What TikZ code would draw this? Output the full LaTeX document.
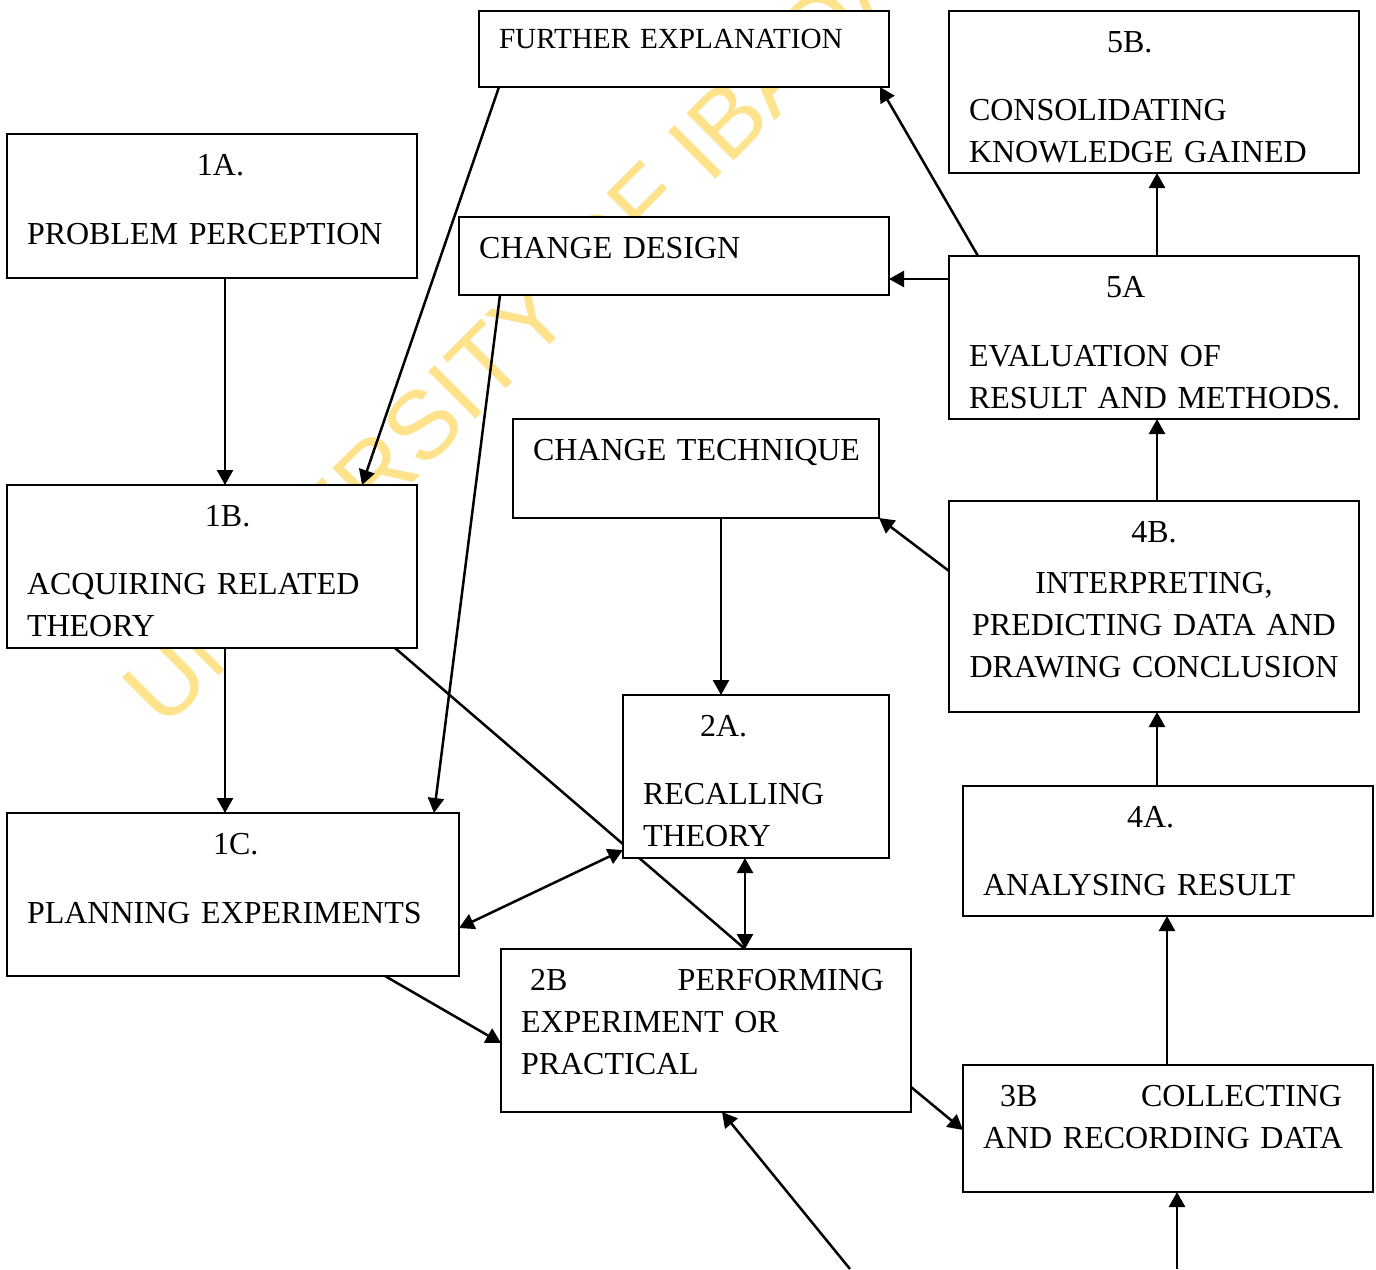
\documentclass[tikz,border=0pt]{standalone}
\usepackage{fontspec}
\setmainfont{Liberation Serif}
\newfontfamily\wmfont{Liberation Sans}
\usetikzlibrary{arrows.meta,calc,positioning}
\definecolor{wmark}{RGB}{255,226,140}
\pgfdeclarelayer{background}
\pgfsetlayers{background,main}

\tikzset{
  stage/.style={draw, fill=white, line width=1.1pt, anchor=north west, outer sep=0pt,
    inner xsep=10pt, inner ysep=0pt, align=left, text height=20.5pt,
    font=\fontsize{16}{21}\selectfont},
  link/.style={line width=1.25pt, -{Triangle[length=7.5pt,width=8pt]}},
  twoway/.style={line width=1.25pt, {Triangle[length=7.5pt,width=8pt]}-{Triangle[length=7.5pt,width=8pt]}},
}

\begin{document}
\begin{tikzpicture}[x=0.5pt,y=-0.5pt]

        \useasboundingbox (0,0) rectangle (1376,1269);

        % stages
        \node[stage, text width=185pt, text height=18.5pt, text depth=19.5pt,
              font=\fontsize{14.6}{18}\selectfont] (fe) at (479,11) {\mbox{FURTHER EXPLANATION}};
        \node[stage, text width=185pt, text depth=60.5pt] (s5b) at (949,11)
              {\hspace*{69pt}5B.\\[13pt] CONSOLIDATING\\ \mbox{KNOWLEDGE GAINED}};
        \node[stage, text width=185pt, text depth=51.5pt] (s1a) at (7,134)
              {\hspace*{85pt}1A.\\[13.5pt] \mbox{PROBLEM PERCEPTION}};
        \node[stage, text width=195pt, text depth=18.5pt] (cd) at (459,217) {\mbox{CHANGE DESIGN}};
        \node[stage, text width=185pt, text depth=61pt] (s5a) at (949,256)
              {\hspace*{68.5pt}5A\\[13.5pt] \mbox{EVALUATION OF}\\ \mbox{RESULT AND METHODS.}};
        \node[stage, text width=163pt, text depth=29pt] (ct) at (513,419) {\mbox{CHANGE TECHNIQUE}};
        \node[stage, text width=185pt, text depth=61pt] (s1b) at (7,485)
              {\hspace*{89pt}1B.\\[13pt] \mbox{ACQUIRING RELATED}\\ THEORY};
        \node[stage, align=center, text width=185pt, text depth=85pt] (s4b) at (949,501)
              {4B.\\[4.5pt] INTERPRETING,\\ \mbox{PREDICTING DATA AND}\\ \mbox{DRAWING CONCLUSION}};
        \node[stage, text width=113pt, text depth=61pt] (s2a) at (623,695)
              {\hspace*{28.5pt}2A.\\[13pt] RECALLING\\ THEORY};
        \node[stage, text width=185pt, text depth=44.5pt] (s4a) at (963,786)
              {\hspace*{72pt}4A.\\[13pt] \mbox{ANALYSING RESULT}};
        \node[stage, text width=206pt, text depth=61pt] (s1c) at (7,813)
              {\hspace*{93pt}1C.\\[13.5pt] \mbox{PLANNING EXPERIMENTS}};
        \node[stage, text width=185pt, text depth=61pt] (s2b) at (501,949)
              {\hbox to \linewidth{\hspace{4.5pt}2B\hfil PERFORMING\hspace{3.5pt}}\\ \mbox{EXPERIMENT OR}\\ PRACTICAL};
        \node[stage, text width=185pt, text depth=43pt] (s3b) at (963,1065)
              {\hbox to \linewidth{\hspace{8.5pt}3B\hfil COLLECTING\hspace{5.5pt}}\\ \mbox{AND RECORDING DATA}};

        \coordinate (bot1) at (850,1269);
        \coordinate (bot2) at (1177,1269);

        % watermark and the line hidden behind 2A
        \begin{pgfonlayer}{background}
          \fill[white] (0,0) rectangle (1376,1269);
          \node[rotate=45, text=wmark, inner sep=0pt, font=\wmfont\fontsize{48.5}{50}\selectfont]
                (wm) at (541,307) {UNIVERSITY OF IBADAN};
          \draw[line width=1.25pt] ($(s1b.south west)+(388,0)$) -- ($(s2b.north west)+(244,0)$);
        \end{pgfonlayer}

        % connectors
        \draw[link] ($(s1a.south west)+(218,0)$) -- ($(s1b.north west)+(218,0)$);
        \draw[link] ($(fe.south west)+(20,0)$) -- ($(s1b.north west)+(355,0)$);
        \draw[link] ($(cd.south west)+(41,0)$) -- ($(s1c.north west)+(427,0)$);
        \draw[link] ($(s1b.south west)+(218,0)$) -- ($(s1c.north west)+(218,0)$);
        \draw[twoway] ($(s2a.south west)+(122,0)$) -- ($(s2b.north west)+(244,0)$);
        \draw[twoway] ($(s2a.south west)+(0,-8)$) -- ($(s1c.north east)+(0,115)$);
        \draw[link] ($(s1c.south west)+(378,0)$) -- ($(s2b.north west)+(0,94)$);
        \draw[link] ($(s2b.north east)+(0,138)$) -- ($(s3b.north west)+(0,65)$);
        \draw[link] (bot1) -- ($(s2b.south west)+(221,0)$);
        \draw[link] (bot2) -- ($(s3b.south west)+(214,0)$);
        \draw[link] ($(s3b.north west)+(204,0)$) -- ($(s4a.south west)+(204,0)$);
        \draw[link] ($(s4a.north west)+(194,0)$) -- ($(s4b.south west)+(208,0)$);
        \draw[link] ($(s4b.north west)+(208,0)$) -- ($(s5a.south west)+(208,0)$);
        \draw[link] ($(s4b.north west)+(0,70)$) -- (ct.south east);
        \draw[link] ($(ct.south west)+(208,0)$) -- ($(s2a.north west)+(98,0)$);
        \draw[link] ($(s5a.north west)+(0,23)$) -- ($(cd.north east)+(0,62)$);
        \draw[link] ($(s5a.north west)+(29,0)$) -- ($(fe.south east)+(-9,0)$);
        \draw[link] ($(s5a.north west)+(208,0)$) -- ($(s5b.south west)+(208,0)$);

\end{tikzpicture}
\end{document}
